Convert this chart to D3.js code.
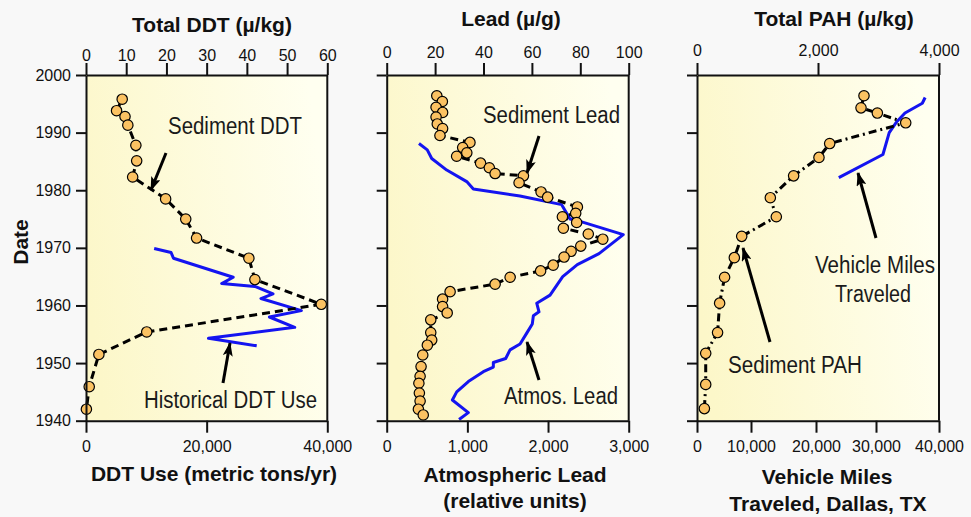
<!DOCTYPE html>
<html>
<head>
<meta charset="utf-8">
<script src="https://cdn.jsdelivr.net/npm/d3@7"></script>
<style>
body{margin:0;background:#f8f8f8;}
svg{display:block;font-family:"Liberation Sans",Arial,sans-serif;}
.note{font-family:"Liberation Sans",Arial,sans-serif;font-size:23px;fill:#1a1a1a;}
.ttl{font-weight:bold;font-size:21px;fill:#111;}
</style>
</head>
<body>
<svg width="971" height="517"></svg>
<script>
// ---- data ----
var yearTicks=[1940,1950,1960,1970,1980,1990,2000];

var ddtTicks=[0,10,20,30,40,50,60];
var ddtUseTicks=[0,20000,40000];
var ddtYear=[1995.8,1993.8,1992.8,1991.3,1987.8,1985.1,1982.3,1978.5,1975.0,1971.7,1968.2,1964.5,1960.2,1955.4,1951.5,1945.9,1942.0];
var ddtConc=[9.0,7.6,9.7,10.4,12.4,12.6,11.6,19.8,24.8,27.5,40.5,42.0,58.5,15.1,3.2,0.8,0.1];
var ddtUseYear=[1969.9,1969.2,1968.2,1964.9,1963.8,1963.3,1962.0,1961.2,1959.1,1958.0,1956.2,1954.3,1953.0];
var ddtUse=[11300,14100,14500,24400,22500,28000,31000,29000,35700,30400,34600,20300,28300];

var leadTicks=[0,20,40,60,80,100];
var atmTicks=[0,1000,2000,3000];
var leadYear=[1996.4,1995.4,1994.4,1993.5,1992.7,1991.5,1990.7,1989.5,1988.3,1987.4,1986.5,1985.9,1984.7,1983.9,1982.9,1982.5,1981.3,1979.7,1978.8,1977.1,1976.0,1975.4,1974.4,1973.4,1972.4,1971.5,1970.3,1969.4,1968.4,1967.0,1966.0,1964.9,1963.7,1962.4,1961.1,1959.8,1958.7,1957.5,1955.3,1954.0,1953.1,1951.4,1949.4,1947.7,1946.5,1944.8,1943.4,1942.0,1941.0];
var leadConc=[20.7,23.0,20.4,23.1,20.4,20.9,23.1,22.0,34.4,31.4,33.1,28.9,38.8,42.4,44.8,56.5,54.7,63.8,66.5,78.8,78.1,72.6,78.5,73.0,83.3,89.3,80.2,76.2,73.3,68.8,63.6,51.0,44.8,26.2,23.1,23.1,25.0,18.2,18.2,18.6,16.8,14.9,14.2,13.8,13.3,13.5,13.8,13.1,15.1];
var atmYear=[1988.1,1987.0,1985.5,1983.5,1981.5,1980.2,1979.0,1977.5,1975.0,1974.6,1972.3,1969.0,1967.1,1965.0,1961.8,1960.4,1958.9,1958.2,1956.8,1955.2,1953.3,1952.3,1950.8,1950.1,1949.3,1948.5,1946.8,1945.0,1943.6,1941.4,1940.2];
var atmLead=[400,503,558,744,992,1074,1652,2169,2273,2398,2933,2632,2363,2182,2025,1860,1888,1818,1805,1736,1653,1529,1475,1322,1322,1198,1012,868,814,1012,897];

var pahTicks=[0,2000,4000];
var vmtTicks=[0,10000,20000,30000,40000];
var pahYear=[1996.4,1994.3,1993.4,1991.7,1988.1,1985.7,1982.5,1978.7,1975.4,1972.0,1968.3,1964.9,1960.4,1955.3,1951.7,1946.3,1942.1];
var pahConc=[2760,2711,2981,3450,2193,2016,1597,1212,1311,739,617,456,374,340,144,144,122];
var vmtYear=[1996.1,1995.1,1993.4,1991.9,1990.0,1986.2,1982.2];
var vmt=[37800,37350,34600,33300,32100,31100,23800];

function zip(a,b){return a.map(function(v,i){return [v,b[i]];});}

var svg=d3.select("svg");
var plotTop=75, h=345.7;
var fmt=d3.format(",");

var defs=svg.append("defs");
var grad=defs.append("linearGradient").attr("id","bg").attr("x1",0).attr("y1",0.6).attr("x2",1).attr("y2",0.4);
grad.append("stop").attr("offset","0%").attr("stop-color","#fcf7c9");
grad.append("stop").attr("offset","100%").attr("stop-color","#fffff0");
defs.append("marker").attr("id","arr").attr("markerUnits","userSpaceOnUse")
  .attr("viewBox","0 0 14 10").attr("markerWidth",14).attr("markerHeight",10)
  .attr("refX",13).attr("refY",5).attr("orient","auto")
  .append("path").attr("d","M0,0 L14,5 L0,10 L3,5 z").attr("fill","#000");

function styleAxis(a){
  a.selectAll("path,line").attr("stroke","#111").attr("stroke-width",2);
  a.selectAll("text").attr("font-size","16px").attr("fill","#111").attr("font-family","Liberation Sans,Arial,sans-serif");
}

function panel(o){
  var w=o.width;
  var g=svg.append("g").attr("transform","translate("+o.left+","+plotTop+")");
  g.append("rect").attr("width",w).attr("height",h).attr("fill","url(#bg)");

  var y=d3.scaleLinear().domain([1940,2000]).range([h,0]);
  var xt=d3.scaleLinear().domain(o.topDomain).range([0,w]);
  var xb=o.bottomScale.copy().range(o.bottomRange||[0,w]);

  // historical / atmospheric / traffic line
  g.append("path")
    .datum(zip(o.lineX,o.lineY))
    .attr("fill","none").attr("stroke","#1414f0").attr("stroke-width",3)
    .attr("stroke-linejoin","round")
    .attr("d",d3.line().x(function(d){return xb(d[0]);}).y(function(d){return y(d[1]);}));

  // sediment profile
  var pts=zip(o.ptX,o.ptY);
  g.append("path")
    .datum(pts)
    .attr("fill","none").attr("stroke","#000").attr("stroke-width",3)
    .attr("stroke-dasharray",o.dash)
    .attr("d",d3.line().x(function(d){return xt(d[0]);}).y(function(d){return y(d[1]);}));
  g.selectAll(".pt").data(pts).enter().append("circle")
    .attr("cx",function(d){return xt(d[0]);})
    .attr("cy",function(d){return y(d[1]);})
    .attr("r",5.2)
    .attr("fill","#fbc262").attr("stroke","#000").attr("stroke-width",1.2);

  // axes
  var at=g.append("g").call(d3.axisTop(xt).tickValues(o.topTicks).tickFormat(fmt).tickSize(12).tickSizeOuter(0).tickPadding(o.topPad));
  styleAxis(at);
  var ab=g.append("g").attr("transform","translate(0,"+h+")")
    .call(d3.axisBottom(xb).tickValues(o.bottomTicks).tickFormat(fmt).tickSize(12).tickSizeOuter(0).tickPadding(8));
  styleAxis(ab);
  var al=g.append("g").call(d3.axisLeft(y).tickValues(yearTicks).tickFormat(o.yLabels?d3.format("d"):"").tickSize(10).tickSizeOuter(0).tickPadding(5));
  styleAxis(al);
  g.append("line").attr("x1",w).attr("x2",w).attr("y1",0).attr("y2",h).attr("stroke","#111").attr("stroke-width",2);
}

panel({left:86,width:241.3,topDomain:[0,60],topTicks:ddtTicks,topPad:2,
  bottomScale:d3.scaleLinear().domain([0,40000]),bottomTicks:ddtUseTicks,
  ptX:ddtConc,ptY:ddtYear,lineX:ddtUse,lineY:ddtUseYear,dash:"8,5",yLabels:true});
panel({left:386.7,width:242,topDomain:[0,100],topTicks:leadTicks,topPad:5,
  bottomScale:d3.scaleLinear().domain([0,3000]),bottomTicks:atmTicks,
  ptX:leadConc,ptY:leadYear,lineX:atmLead,lineY:atmYear,dash:"8,5"});
panel({left:697,width:242,topDomain:[0,4000],topTicks:pahTicks,topPad:7,
  bottomScale:d3.scaleLinear().domain(vmtTicks),bottomRange:[0,54,119,179,242],bottomTicks:vmtTicks,
  ptX:pahConc,ptY:pahYear,lineX:vmt,lineY:vmtYear,dash:"8,4,2,4"});

// titles
function ttl(x,y,t){svg.append("text").attr("class","ttl").attr("x",x).attr("y",y).attr("text-anchor","middle").text(t);}
ttl(212,32,"Total DDT (µ/kg)");
ttl(511,26,"Lead (µ/g)");
ttl(834,26,"Total PAH (µ/kg)");
ttl(214,481,"DDT Use (metric tons/yr)");
ttl(515,482,"Atmospheric Lead");
ttl(515,508,"(relative units)");
ttl(827,484,"Vehicle Miles");
ttl(828,511,"Traveled, Dallas, TX");
svg.append("text").attr("class","ttl").attr("transform","translate(28,242) rotate(-90)").attr("text-anchor","middle").text("Date");

// annotations (narrow lettering: squeeze to the width seen in the picture)
function note(x,y,t,len){
  svg.append("text").attr("class","note").attr("x",x).attr("y",y)
    .attr("textLength",len).attr("lengthAdjust","spacingAndGlyphs").text(t);
}
note(168,134,"Sediment DDT",134);
note(144,408,"Historical DDT Use",173);
note(483,123,"Sediment Lead",137);
note(504,404,"Atmos. Lead",114);
note(815,273,"Vehicle Miles",120);
note(835,302,"Traveled",76);
note(728,373,"Sediment PAH",134);

function arrow(x1,y1,x2,y2){
  svg.append("line").attr("x1",x1).attr("y1",y1).attr("x2",x2).attr("y2",y2)
    .attr("stroke","#000").attr("stroke-width",3).attr("marker-end","url(#arr)");
}
arrow(166,153,151,190);
arrow(223,383,230,343);
arrow(539,136,527,173);
arrow(539,380,527,342);
arrow(876,238,858,173);
arrow(770,342,743,248);
</script>
</body>
</html>
